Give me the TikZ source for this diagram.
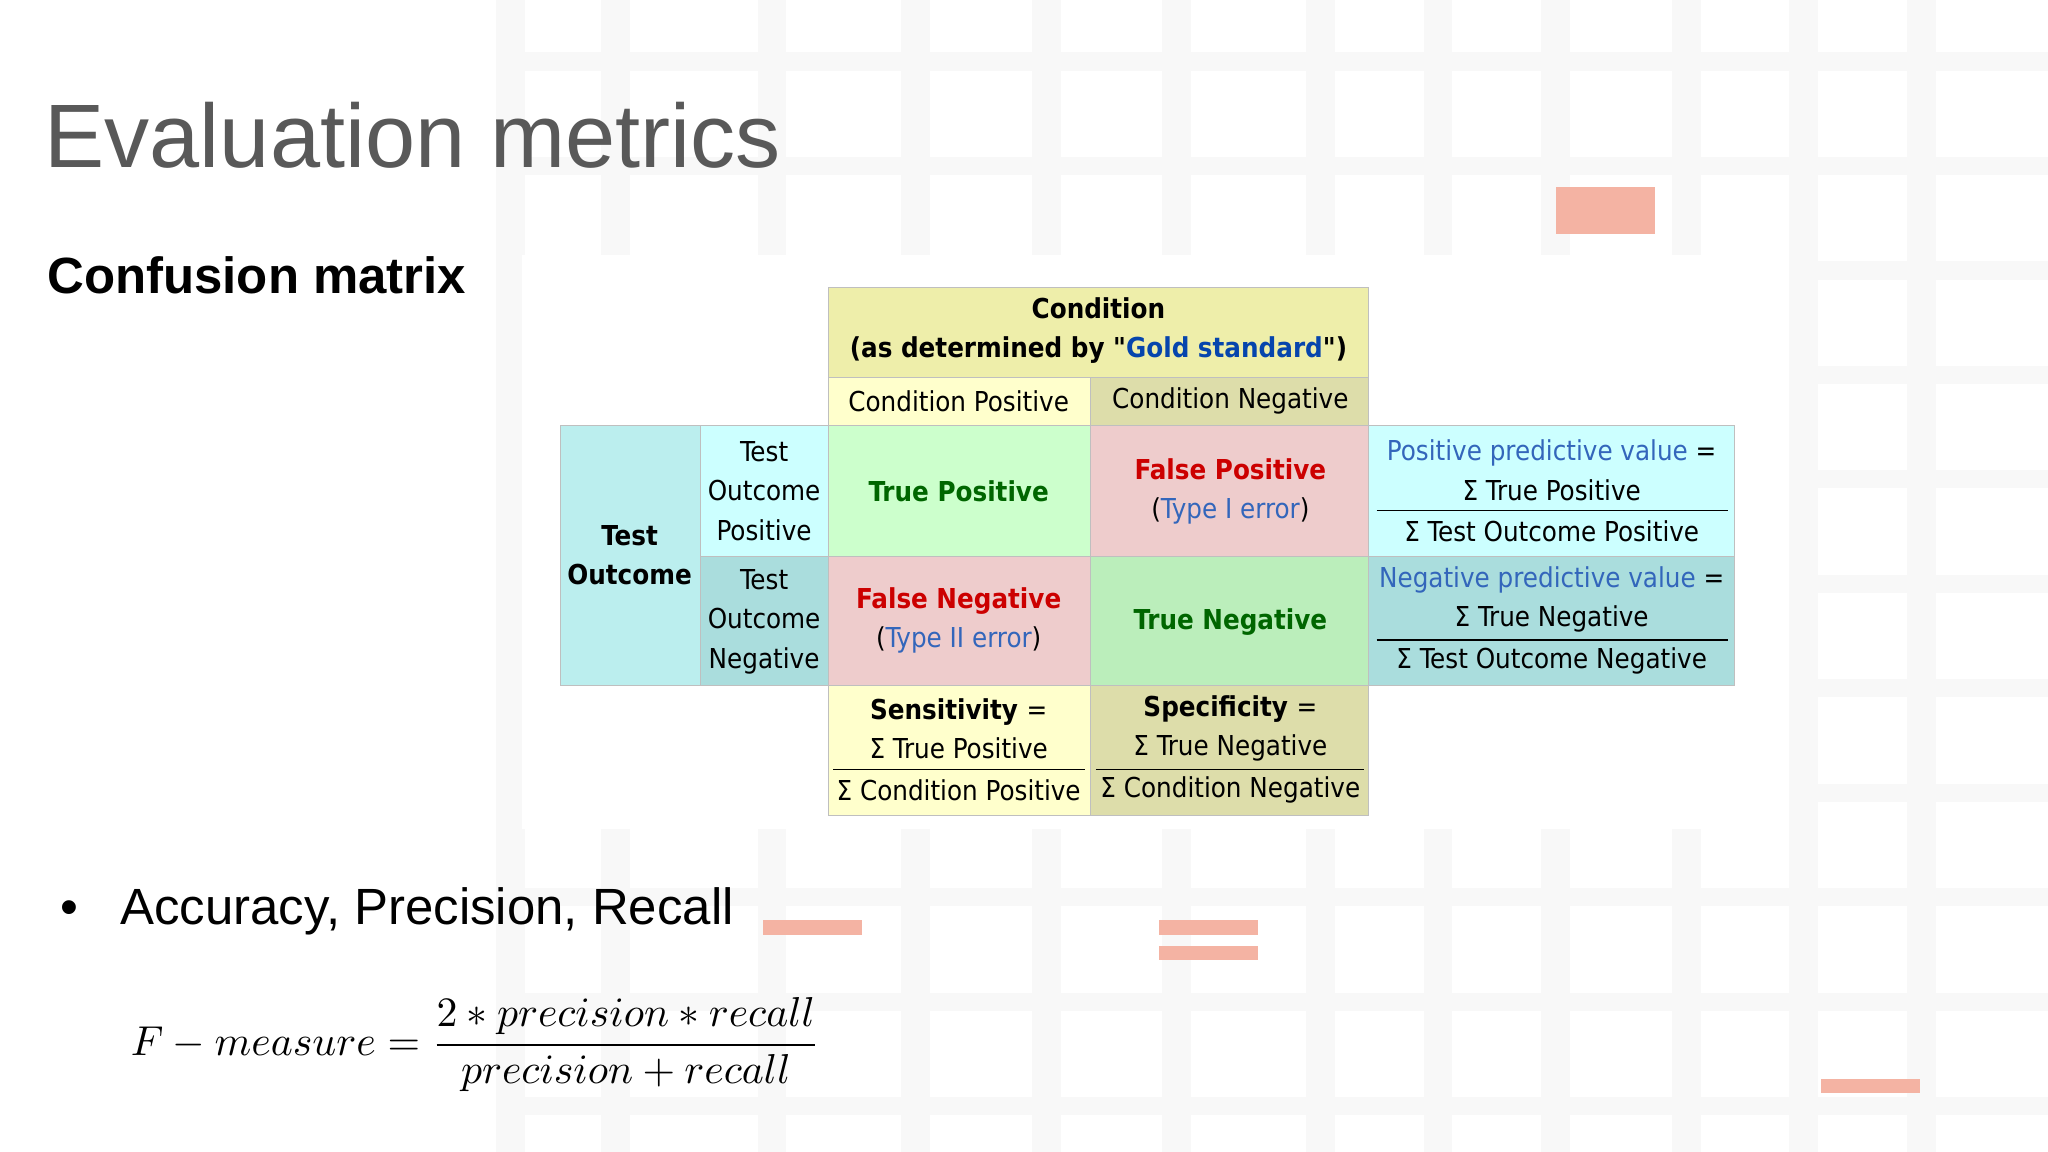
\documentclass[tikz,border=0pt]{standalone}
\usepackage{fontspec}
\usepackage{amsmath}
\setmainfont{Liberation Sans}
\newfontfamily\tbl{DejaVu Sans Condensed}
\definecolor{hdr}{HTML}{EEEEAA}
\definecolor{cpos}{HTML}{FFFFCC}
\definecolor{cneg}{HTML}{DDDDAA}
\definecolor{tout}{HTML}{BBEEEE}
\definecolor{tpos}{HTML}{CCFFFF}
\definecolor{tneg}{HTML}{AADDDD}
\definecolor{tpc}{HTML}{CCFFCC}
\definecolor{fpc}{HTML}{EECCCC}
\definecolor{tnc}{HTML}{BBEEBB}
\definecolor{salmon}{HTML}{F4B3A3}
\definecolor{gold}{HTML}{0645AD}
\definecolor{lnk}{HTML}{3366BB}
\definecolor{dgreen}{HTML}{006600}
\definecolor{dred}{HTML}{CC0000}
\definecolor{ttl}{HTML}{595959}
\definecolor{faint}{HTML}{F8F8F8}
\begin{document}
\begin{tikzpicture}[x=1pt,y=-1pt,
  cell/.style={draw=black!25,line width=0.8pt},
  txt/.style={font=\tbl\fontsize{21}{30}\selectfont,align=center,inner sep=0pt},
  sal/.style={fill=salmon,draw=none}]
\useasboundingbox (0,0) rectangle (1568,882);
\fill[white] (0,0) rectangle (1568,882);
% faint background pattern
\foreach \x in {380,460,580,690,790,890,1000,1090,1180,1280,1370,1460}{
  \fill[faint] (\x,0) rectangle (\x+22,882);}
\foreach \y in {40,120,200,280,360,440,520,600,680,760,840}{
  \fill[faint] (380,\y) rectangle (1568,\y+14);}
\fill[white] (400,195) rectangle (1370,635);
% salmon marks
\fill[sal] (1191,143) rectangle (1267,179);
\fill[sal] (584,704) rectangle (660,716);
\fill[sal] (887,704) rectangle (963,716);
\fill[sal] (887,724) rectangle (963,735);
\fill[sal] (1394,826) rectangle (1470,837);
% titles
\node[anchor=base west,inner sep=0pt,text=ttl,font=\fontsize{69}{72}\selectfont] (title) at (34,128) {Evaluation metrics};
\node[anchor=base west,inner sep=0pt,font=\bfseries\fontsize{39}{42}\selectfont] (sub) at (36,225) {Confusion matrix};
\node[anchor=base west,inner sep=0pt,font=\fontsize{39}{42}\selectfont] (bul) at (46,708) {\textbullet};
\node[anchor=base west,inner sep=0pt,font=\fontsize{39}{42}\selectfont] (bul2) at (92,708) {Accuracy, Precision, Recall};
\node[anchor=west,inner sep=0pt] (fm) at (100,800)
  {\scalebox{3.2}{$F-measure=\dfrac{2*precision*recall}{precision+recall}$}};
% cells
\draw[cell,fill=hdr] (634,220) rectangle (1048,289);
\draw[cell,fill=cpos] (634,289) rectangle (835,326);
\draw[cell,fill=cneg] (835,289) rectangle (1048,326);
\draw[cell,fill=tout] (429,326) rectangle (536,525);
\draw[cell,fill=tpos] (536,326) rectangle (634,426);
\draw[cell,fill=tneg] (536,426) rectangle (634,525);
\draw[cell,fill=tpc] (634,326) rectangle (835,426);
\draw[cell,fill=fpc] (835,326) rectangle (1048,426);
\draw[cell,fill=fpc] (634,426) rectangle (835,525);
\draw[cell,fill=tnc] (835,426) rectangle (1048,525);
\draw[cell,fill=tpos] (1048,326) rectangle (1328,426);
\draw[cell,fill=tneg] (1048,426) rectangle (1328,525);
\draw[cell,fill=cpos] (634,525) rectangle (835,624);
\draw[cell,fill=cneg] (835,525) rectangle (1048,624);
% texts
\node[txt] (cond) at (841,253) {\bfseries Condition\\\bfseries (as determined by "\textcolor{gold}{Gold standard}")};
\node[txt] (cp) at (734,307) {Condition Positive};
\node[txt] (cn) at (942,307) {Condition Negative};
\node[txt] (to) at (482,425) {\bfseries Test\\\bfseries Outcome};
\node[txt] (top) at (585,376) {Test\\Outcome\\Positive};
\node[txt] (ton) at (585,476) {Test\\Outcome\\Negative};
\node[txt,text=dgreen] (tp) at (734,376) {\bfseries True Positive};
\node[txt] (fp) at (942,376) {\textcolor{dred}{\bfseries False Positive}\\(\textcolor{lnk}{Type I error})};
\node[txt] (fn) at (734,475) {\textcolor{dred}{\bfseries False Negative}\\(\textcolor{lnk}{Type II error})};
\node[txt,text=dgreen] (tn) at (942,476) {\bfseries True Negative};
\node[txt] (ppv) at (1188,376) {\textcolor{lnk}{Positive predictive value} =\\Σ True Positive\\[2pt]Σ Test Outcome Positive};
\draw[line width=1pt] (1054,391) -- (1323,391);
\node[txt] (npv) at (1188,475) {\textcolor{lnk}{Negative predictive value} =\\Σ True Negative\\[2pt]Σ Test Outcome Negative};
\draw[line width=1pt] (1054,490) -- (1323,490);
\node[txt] (sen) at (734,574) {\bfseries Sensitivity \mdseries =\\Σ True Positive\\[2pt]Σ Condition Positive};
\draw[line width=1pt] (638,589) -- (831,589);
\node[txt] (spe) at (942,574) {\bfseries Specificity \mdseries =\\Σ True Negative\\[2pt]Σ Condition Negative};
\draw[line width=1pt] (839,589) -- (1044,589);
\end{tikzpicture}
\end{document}
